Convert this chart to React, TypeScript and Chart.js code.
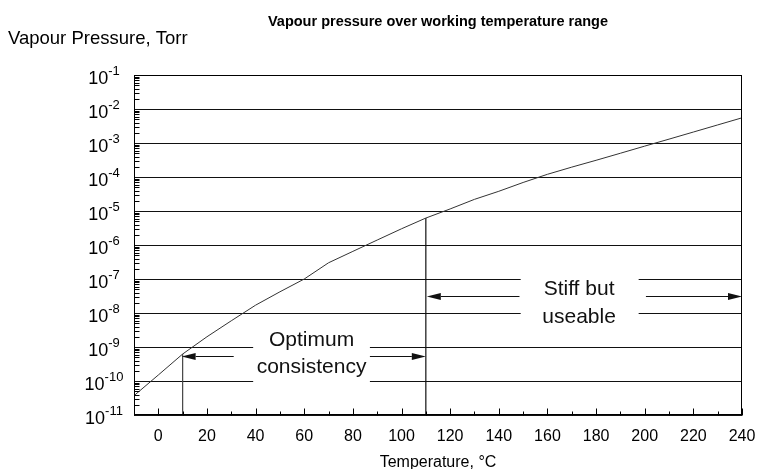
import React, { useEffect, useRef } from 'react';
import { Chart, registerables } from 'chart.js';

Chart.register(...registerables);

// ---- data ----
const temperatures = [-10, 0, 10, 20, 30, 40, 50, 60, 70, 80, 90, 100, 110, 120, 130, 140, 150, 160, 170, 180, 190, 200, 210, 220, 230, 240];
const vapourPressures = [3.7e-11, 1.5e-10, 6.2e-10, 2.0e-9, 5.9e-9, 1.7e-8, 4.2e-8, 1.0e-7, 3.0e-7, 6.5e-7, 1.4e-6, 3.0e-6, 6.2e-6, 1.15e-5, 2.2e-5, 3.8e-5, 6.9e-5, 1.2e-4, 1.95e-4, 3.1e-4, 5.0e-4, 8.1e-4, 1.3e-3, 2.1e-3, 3.4e-3, 5.5e-3];
const xTickValues = [-10, 0, 10, 20, 30, 40, 50, 60, 70, 80, 90, 100, 110, 120, 130, 140, 150, 160, 170, 180, 190, 200, 210, 220, 230, 240];
const xTickLabels = ['', '0', '', '20', '', '40', '', '60', '', '80', '', '100', '', '120', '', '140', '', '160', '', '180', '', '200', '', '220', '', '240'];
const yDecadeExponents = [-11, -10, -9, -8, -7, -6, -5, -4, -3, -2, -1];
const optimumMarker = [{ x: 10, y: 1e-11 }, { x: 10, y: 6.2e-10 }];
const stiffMarker = [{ x: 110, y: 1e-11 }, { x: 110, y: 6.2e-6 }];
const optimumRange = [10, 110];
const stiffRange = [110, 240];

const TITLE = 'Vapour pressure over working temperature range';
const Y_TITLE = 'Vapour Pressure, Torr';
const X_TITLE = 'Temperature, °C';

const FONT = '"Liberation Sans", Arial, Helvetica, sans-serif';

function arrow(ctx: CanvasRenderingContext2D, x0: number, x1: number, y: number) {
  const dir = x1 > x0 ? 1 : -1;
  const headLen = 14;
  const half = 3.5;
  ctx.beginPath();
  ctx.moveTo(x0, y);
  ctx.lineTo(x1 - dir * headLen, y);
  ctx.stroke();
  ctx.beginPath();
  ctx.moveTo(x1, y);
  ctx.lineTo(x1 - dir * headLen, y - half);
  ctx.lineTo(x1 - dir * headLen, y + half);
  ctx.closePath();
  ctx.fill();
}

const decorations = {
  id: 'decorations',
  beforeDatasetsDraw(chart: any) {
    const { ctx, chartArea, scales } = chart;
    const { left, right } = chartArea;
    const y = scales.y;
    ctx.save();
    ctx.strokeStyle = '#111';
    ctx.lineWidth = 1;
    for (const e of yDecadeExponents) {
      const py = Math.round(y.getPixelForValue(Math.pow(10, e))) + 0.5;
      ctx.beginPath();
      ctx.moveTo(left, py);
      ctx.lineTo(right, py);
      ctx.stroke();
    }
    ctx.restore();
  },
  afterDatasetsDraw(chart: any) {
    const { ctx, chartArea, scales } = chart;
    const { left, right, top, bottom } = chartArea;
    const x = scales.x;
    const y = scales.y;
    const px = (v: number) => x.getPixelForValue(v);
    const py = (v: number) => y.getPixelForValue(v);
    ctx.save();

    // white boxes behind annotation text (gaps in grid lines)
    ctx.fillStyle = '#fff';
    const b1x0 = px(39), b1x1 = px(87);
    ctx.fillRect(b1x0, py(Math.pow(10, -8.2)), b1x1 - b1x0, py(Math.pow(10, -10.2)) - py(Math.pow(10, -8.2)));
    const b2x0 = px(149), b2x1 = px(197.5);
    ctx.fillRect(b2x0, py(Math.pow(10, -6.5)), b2x1 - b2x0, py(Math.pow(10, -8.5)) - py(Math.pow(10, -6.5)));

    // annotation text
    ctx.fillStyle = '#111';
    ctx.font = `21px ${FONT}`;
    ctx.textAlign = 'center';
    ctx.textBaseline = 'alphabetic';
    const oc = px(63);
    ctx.fillText('Optimum', oc, py(Math.pow(10, -8.97)));
    ctx.fillText('consistency', oc, py(Math.pow(10, -9.77)));
    const sc = px(173);
    ctx.fillText('Stiff but', sc, py(Math.pow(10, -7.47)));
    ctx.fillText('useable', sc, py(Math.pow(10, -8.3)));

    // arrows
    ctx.strokeStyle = '#111';
    ctx.fillStyle = '#111';
    ctx.lineWidth = 1.2;
    const ay1 = Math.round(py(Math.pow(10, -9.27))) + 0.5;
    arrow(ctx, px(31), px(optimumRange[0]) - 1, ay1);
    arrow(ctx, px(87), px(optimumRange[1]), ay1);
    const ay2 = Math.round(py(Math.pow(10, -7.5))) + 0.5;
    arrow(ctx, px(148.5), px(stiffRange[0]) + 1, ay2);
    arrow(ctx, px(200.5), px(stiffRange[1]), ay2);

    // frame
    ctx.strokeStyle = '#000';
    ctx.lineWidth = 1;
    const L = Math.round(left) + 0.5, R = Math.round(right) - 0.5, T = Math.round(top) + 0.5, B = Math.round(bottom) - 0.5;
    ctx.strokeRect(L, T, R - L, B - T);

    // y minor ticks
    ctx.beginPath();
    for (const e of yDecadeExponents) {
      if (e === -1) continue;
      for (let m = 2; m <= 9; m++) {
        const yy = Math.round(py(m * Math.pow(10, e))) + 0.5;
        ctx.moveTo(L, yy);
        ctx.lineTo(L + 5, yy);
      }
    }
    ctx.stroke();

    // x ticks
    ctx.beginPath();
    xTickValues.forEach((t, i) => {
      const xx = Math.round(px(t)) + 0.5;
      const len = xTickLabels[i] ? 6 : 3;
      ctx.moveTo(xx, B + 1);
      ctx.lineTo(xx, B - len);
    });
    ctx.stroke();

    // x tick labels
    ctx.fillStyle = '#000';
    ctx.font = `16px ${FONT}`;
    ctx.textAlign = 'center';
    xTickValues.forEach((t, i) => {
      if (!xTickLabels[i]) return;
      ctx.fillText(xTickLabels[i], px(t), bottom + 26);
    });

    // x title
    ctx.font = `16px ${FONT}`;
    ctx.fillText(X_TITLE, (left + right) / 2, bottom + 52);

    // y labels: 10^e
    for (const e of yDecadeExponents) {
      const yy = py(Math.pow(10, e));
      const base = '10';
      const exp = String(e);
      ctx.font = `18px ${FONT}`;
      const wBase = ctx.measureText(base).width;
      ctx.font = `13px ${FONT}`;
      const wExp = ctx.measureText(exp).width;
      const total = wBase + wExp;
      const cx = 104;
      const x0 = cx - total / 2;
      ctx.textAlign = 'left';
      ctx.font = `18px ${FONT}`;
      ctx.fillText(base, x0, yy + 9);
      ctx.font = `13px ${FONT}`;
      ctx.fillText(exp, x0 + wBase, yy - 0.5);
    }

    // titles
    ctx.textAlign = 'center';
    ctx.font = `bold 14.5px ${FONT}`;
    ctx.fillText(TITLE, (left + right) / 2, 26);
    ctx.textAlign = 'left';
    ctx.font = `18.5px ${FONT}`;
    ctx.fillText(Y_TITLE, 8, 44);

    ctx.restore();
  },
};

export default function App() {
  const canvasRef = useRef<HTMLCanvasElement | null>(null);

  useEffect(() => {
    document.body.style.margin = '0';
    const canvas = canvasRef.current;
    if (!canvas) return;
    const chart = new Chart(canvas, {
      type: 'line',
      data: {
        datasets: [
          {
            label: 'Vapour pressure',
            data: temperatures.map((t, i) => ({ x: t, y: vapourPressures[i] })),
            borderColor: '#333',
            borderWidth: 1,
            pointRadius: 0,
            tension: 0,
            fill: false,
          },
          {
            label: 'Optimum limit',
            data: optimumMarker,
            borderColor: '#444',
            borderWidth: 1.2,
            pointRadius: 0,
            fill: false,
          },
          {
            label: 'Stiff limit',
            data: stiffMarker,
            borderColor: '#111',
            borderWidth: 1.2,
            pointRadius: 0,
            fill: false,
          },
        ],
      },
      options: {
        animation: false,
        responsive: true,
        maintainAspectRatio: false,
        layout: { padding: { left: 134, right: 15, top: 75, bottom: 54 } },
        plugins: {
          legend: { display: false },
          title: { display: false },
          tooltip: { enabled: false },
        },
        scales: {
          x: { type: 'linear', min: -10, max: 240, display: false },
          y: { type: 'logarithmic', min: 1e-11, max: 1e-1, display: false },
        },
      },
      plugins: [decorations],
    });
    return () => chart.destroy();
  }, []);

  return (
    <div style={{ position: 'fixed', left: 0, top: 0, width: 757, height: 469, background: '#fff' }}>
      <canvas ref={canvasRef} />
    </div>
  );
}
